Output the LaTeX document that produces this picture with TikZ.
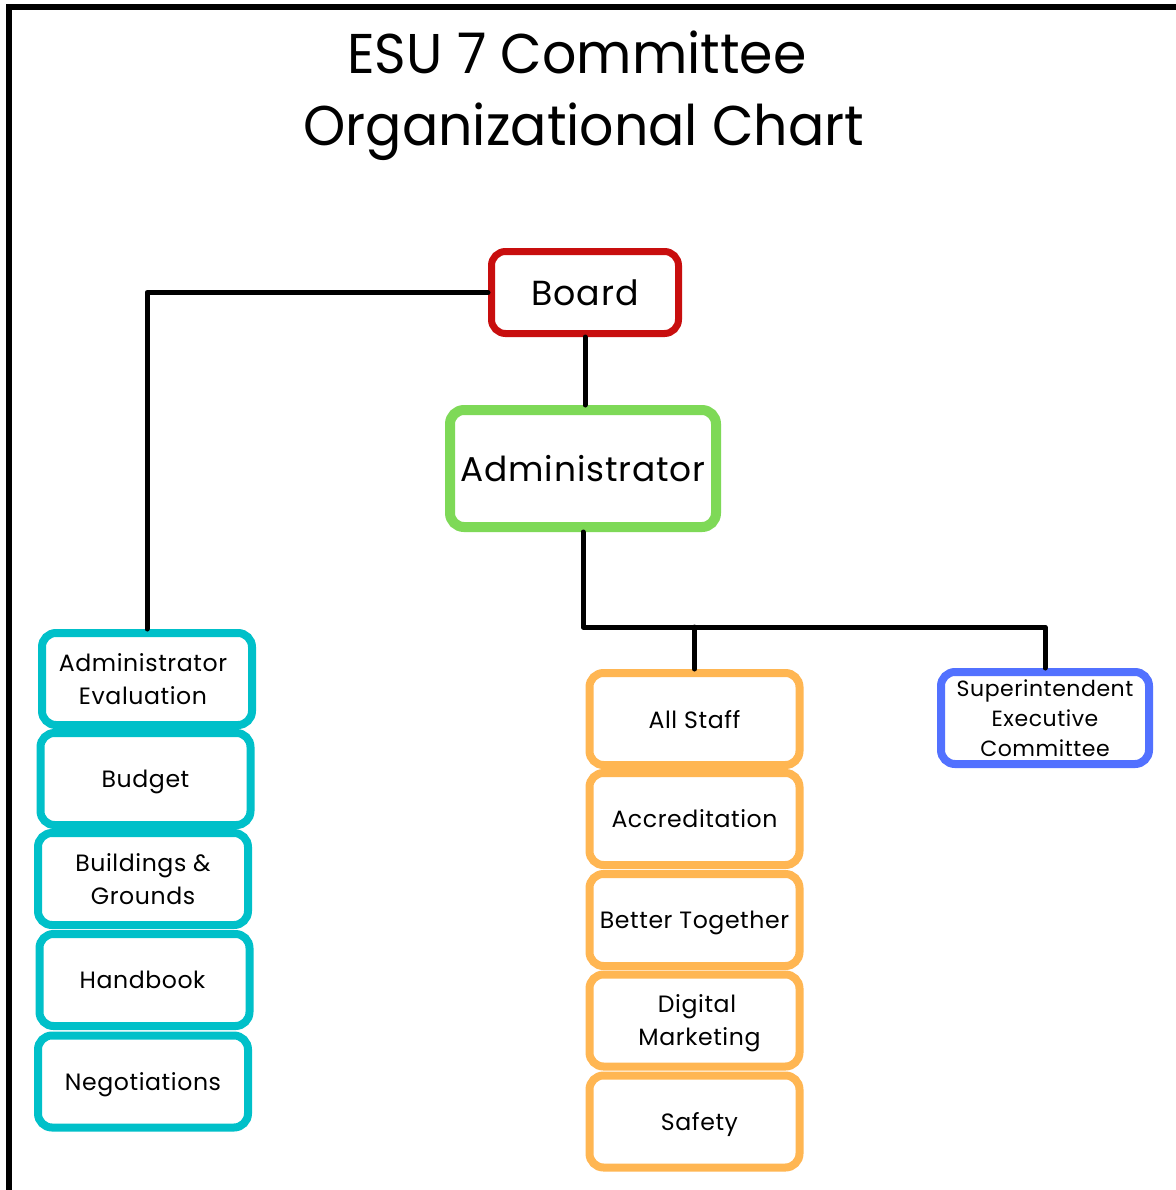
\documentclass[tikz,border=0pt]{standalone}
\usepackage{fontspec}
\setmainfont[LetterSpace=2.5]{Poppins}
\newfontfamily\titlefont[FakeStretch=0.96]{Poppins}
\definecolor{cTeal}{HTML}{00C0C9}
\definecolor{cOrange}{HTML}{FFB652}
\definecolor{cBlue}{HTML}{5271FF}
\definecolor{cGreen}{HTML}{7ED957}
\definecolor{cRed}{HTML}{C80E0E}
\begin{document}
\begin{tikzpicture}[x=0.5pt,y=-0.5pt,
  box/.style n args={3}{draw=#1, line width=4pt, rounded corners=7pt,
    minimum width={#2*0.5pt}, minimum height={#3*0.5pt}, inner sep=0pt,
    align=center, font=\fontsize{11.8}{16.5}\selectfont},
  small/.style={box={#1}{210}{92}},
  one/.style={text depth=0pt},
  conn/.style={line width=2.5pt, line cap=round, line join=round},
  ttl/.style={anchor=base, inner sep=0pt, font=\titlefont\fontsize{28}{36}\selectfont}]
\useasboundingbox (0,0) rectangle (1175,1190);
\fill[white] (0,0) rectangle (1175,1190);
% frame
\draw[line width=3pt] (1180,7) -- (9,7) -- (9,1195);
% title
\node[ttl] (t1) at (577,73) {ESU 7 Committee};
\node[ttl] (t2) at (584,145) {Organizational Chart};
% top
\node[box={cRed}{187}{82}, one, line width=3.5pt, font=\fontsize{17.4}{20}\selectfont] (board) at (585,292.5) {Board};
\node[box={cGreen}{266}{117}, one, line width=5pt, font=\fontsize{17.2}{20}\selectfont] (admin) at (583,468.5) {Administrator};
% left column
\node[small=cTeal] (ae) at (147,679) {\hspace*{-4pt}Administrator\\\hspace*{-4pt}Evaluation};
\node[small=cTeal, one] (bud) at (145.5,779) {Budget};
\node[small=cTeal] (bg) at (143,879) {Buildings \&\\Grounds};
\node[small=cTeal, one] (hb) at (144.5,980) {\hspace*{-2pt}Handbook};
\node[small=cTeal, one] (ng) at (143,1081.5) {Negotiations};
% middle column
\node[small=cOrange, one] (as) at (694.5,719) {All Staff};
\node[small=cOrange, one] (acc) at (694.5,819) {Accreditation};
\node[small=cOrange, one] (bt) at (694.5,920) {Better Together};
\node[small=cOrange, text depth=0pt] (dm) at (694.5,1020.5) {\hspace*{2.5pt}Digital\\\hspace*{5pt}Marketing};
\node[small=cOrange, one] (sf) at (694.5,1121.5) {\hspace*{5pt}Safety};
% right
\node[box={cBlue}{208}{92}, font=\fontsize{11}{15}\selectfont] (sec) at (1045,718) {Superintendent\\Executive\\Committee};
% connectors
\coordinate (bus) at (583,627);
\draw[conn] (board.west) -| (ae.north);
\draw[conn] (board.south) -- (board.south |- admin.north);
\draw[conn] (admin.south) -- (admin.south |- bus) -| (sec.north);
\draw[conn] (as.north |- bus) -- (as.north);
\end{tikzpicture}
\end{document}
